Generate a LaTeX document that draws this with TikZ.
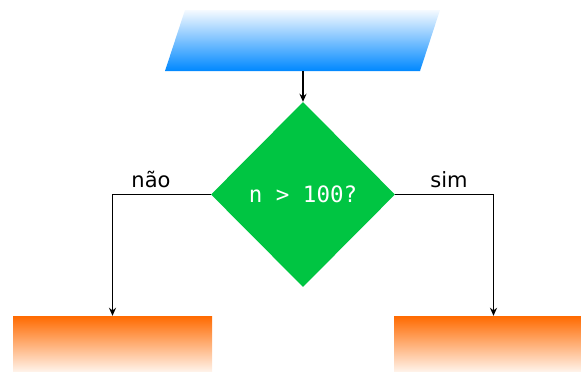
\documentclass[tikz,border=0pt]{standalone}
\usepackage{fontspec}
\setmainfont{DejaVu Sans}
\newfontfamily\codefont{DejaVu Sans Mono}
\usetikzlibrary{shapes.geometric,arrows.meta}

\definecolor{ioblue}{RGB}{0,136,255}
\definecolor{iotop}{RGB}{245,250,255}
\definecolor{decgreen}{RGB}{0,197,66}
\definecolor{endorange}{RGB}{255,106,0}
\definecolor{endlight}{RGB}{255,244,236}

\tikzset{
  flow/.style={draw=black, line width=1.6pt, -{Stealth[length=8pt,width=7pt]}},
  decision/.style={diamond, fill=decgreen, inner sep=0pt,
    minimum width=184pt, minimum height=185pt, text=white,
    font=\codefont\fontsize{22.5}{25}\selectfont},
  outbox/.style={rectangle, inner sep=0pt, minimum width=199pt,
    minimum height=56pt, top color=endorange, bottom color=endlight},
  branchlabel/.style={anchor=base, font=\fontsize{21}{24}\selectfont}
}

\begin{document}
\begin{tikzpicture}[x=1pt, y=-1pt]
  \useasboundingbox (0,0) rectangle (581,372);
  \clip (0,0) rectangle (581,372);

  % input parallelogram
  \shade[top color=iotop, bottom color=ioblue]
    (165,71) -- (185,10) -- (440,10) -- (420,71) -- cycle;
  \coordinate (input) at (303,71);

  % decision
  \node[decision] (test) at (303,194.5) {n > 100?};

  % outcomes
  \node[outbox] (no)  at (112.5,344) {};
  \node[outbox] (yes) at (493.5,344) {};

  % connectors
  \draw[flow] (input) -- (test.north);
  \draw[flow] (test.west) -| (no.north);
  \draw[flow] (test.east) -| (yes.north);

  % branch labels
  \node[branchlabel] (lno)  at (151,187) {não};
  \node[branchlabel] (lyes) at (449,187) {sim};
\end{tikzpicture}
\end{document}
